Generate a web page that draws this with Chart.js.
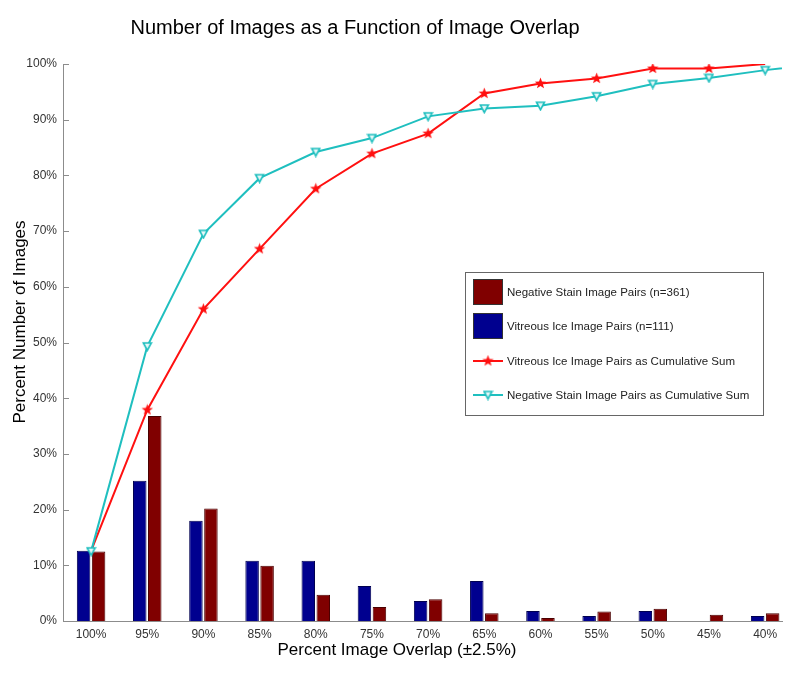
<!DOCTYPE html>
<html>
<head>
<meta charset="utf-8">
<script src="https://cdn.jsdelivr.net/npm/chart.js@4/dist/chart.umd.min.js"></script>
<style>
  html, body { margin: 0; padding: 0; background: #fff; }
  #wrap { position: relative; width: 800px; height: 678px; }
</style>
</head>
<body>
<div id="wrap"><canvas id="overlap"></canvas></div>
<script>
"use strict";

// Image overlap histogram + cumulative sums

let overlapLabels = ["100%", "95%", "90%", "85%", "80%", "75%", "70%", "65%", "60%", "55%", "50%", "45%", "40%"];

let vitreousPct = [12.6, 25.2, 18.0, 10.8, 10.8, 6.3, 3.6, 7.2, 1.8, 0.9, 1.8, 0, 0.9];
let negStainPct = [12.5, 36.8, 20.2, 9.9, 4.7, 2.5, 3.9, 1.4, 0.55, 1.7, 2.2, 1.1, 1.4];

let vitreousCum = [12.6, 37.9, 56.0, 66.8, 77.6, 83.9, 87.5, 94.7, 96.5, 97.4, 99.2, 99.2, 100];
// last value sits past the axis end (35%) and gets clipped
let negStainCum = [12.5, 49.3, 69.5, 79.5, 84.2, 86.7, 90.6, 92.0, 92.5, 94.2, 96.4, 97.5, 98.9, 100];

let yTicks = [0, 10, 20, 30, 40, 50, 60, 70, 80, 90, 100];

const FONT = "'Liberation Sans', Arial, Helvetica, sans-serif";
const RED = "#ff1010";
const CYAN = "#1fbfbf";
const NAVY = "#00008f";
const MAROON = "#800000";

function toXY(arr) {
    return arr.map(function(v, i) { return { x: i + 1, y: v }; });
}

// five point star marker
function starImage(size, color) {
    let c = document.createElement("canvas");
    c.width = size; c.height = size;
    let g = c.getContext("2d");
    let cx = size / 2, cy = size / 2, ro = size / 2 - 0.5, ri = ro * 0.42;
    g.beginPath();
    for (let k = 0; k < 10; k++) {
        let r = k % 2 === 0 ? ro : ri;
        let a = -Math.PI / 2 + k * Math.PI / 5;
        let px = cx + r * Math.cos(a), py = cy + r * Math.sin(a);
        if (k === 0) g.moveTo(px, py); else g.lineTo(px, py);
    }
    g.closePath();
    g.fillStyle = color;
    g.fill();
    return c;
}

// downward triangle marker
function triImage(size, color) {
    let c = document.createElement("canvas");
    c.width = size; c.height = size;
    let g = c.getContext("2d");
    g.beginPath();
    g.moveTo(1.5, 2);
    g.lineTo(size - 1.5, 2);
    g.lineTo(size / 2, size - 1.5);
    g.closePath();
    g.fillStyle = "#e8f8f8";
    g.fill();
    g.lineWidth = 1.6;
    g.strokeStyle = color;
    g.stroke();
    return c;
}

let star = starImage(13, RED);
let tri = triImage(11, CYAN);

let starRadius = vitreousCum.map(function(v, i) {
    return (i === 0 || i === vitreousCum.length - 1) ? 0 : 6;
});

let legendItems = [
    { text: "Negative Stain Image Pairs (n=361)", kind: "box", color: MAROON },
    { text: "Vitreous Ice Image Pairs (n=111)", kind: "box", color: NAVY },
    { text: "Vitreous Ice Image Pairs as Cumulative Sum", kind: "line", color: RED, marker: star },
    { text: "Negative Stain Image Pairs as Cumulative Sum", kind: "line", color: CYAN, marker: tri }
];

let extras = {
    id: "extras",
    afterDatasetsDraw: function(chart) {
        let ctx = chart.ctx;
        let area = chart.chartArea;
        let ys = chart.scales.y;
        ctx.save();

        // inward y ticks
        ctx.strokeStyle = "#8c8c8c";
        ctx.lineWidth = 1;
        yTicks.forEach(function(t) {
            let py = Math.round(ys.getPixelForValue(t)) + 0.5;
            ctx.beginPath();
            ctx.moveTo(area.left, py);
            ctx.lineTo(area.left + 6, py);
            ctx.stroke();
        });

        // title and axis titles
        ctx.fillStyle = "#000";
        ctx.textAlign = "center";
        ctx.textBaseline = "middle";
        ctx.font = "20px " + FONT;
        ctx.fillText("Number of Images as a Function of Image Overlap", 355, 28);
        ctx.font = "17px " + FONT;
        ctx.fillText("Percent Image Overlap (\u00b12.5%)", 397, 650);
        ctx.save();
        ctx.translate(20, 322);
        ctx.rotate(-Math.PI / 2);
        ctx.font = "17px " + FONT;
        ctx.fillText("Percent Number of Images", 0, 0);
        ctx.restore();

        // legend box
        let lx = 465, ly = 272, lw = 298, lh = 143;
        ctx.fillStyle = "#fff";
        ctx.fillRect(lx, ly, lw, lh);
        ctx.strokeStyle = "#666";
        ctx.lineWidth = 1;
        ctx.strokeRect(lx + 0.5, ly + 0.5, lw, lh);
        ctx.textAlign = "left";
        ctx.font = "11.5px " + FONT;
        let rows = [292, 326, 361, 395];
        legendItems.forEach(function(item, i) {
            let cy = rows[i];
            if (item.kind === "box") {
                ctx.fillStyle = item.color;
                ctx.fillRect(473, cy - 13, 30, 26);
                ctx.strokeStyle = "#333";
                ctx.strokeRect(473.5, cy - 12.5, 29, 25);
            } else {
                ctx.strokeStyle = item.color;
                ctx.lineWidth = 2;
                ctx.beginPath();
                ctx.moveTo(473, cy);
                ctx.lineTo(503, cy);
                ctx.stroke();
                ctx.lineWidth = 1;
                ctx.drawImage(item.marker, 488 - item.marker.width / 2, cy - item.marker.height / 2);
            }
            ctx.fillStyle = "#222";
            ctx.fillText(item.text, 507, cy + 1);
        });
        ctx.restore();
    }
};

let ctx_overlap = document.getElementById("overlap").getContext("2d");

let overlapChart = new Chart(ctx_overlap, {
    data: {
        datasets: [
            {
                type: "line",
                label: "Vitreous Ice Image Pairs as Cumulative Sum",
                data: toXY(vitreousCum),
                borderColor: RED,
                borderWidth: 2,
                pointStyle: star,
                pointRadius: starRadius,
                tension: 0,
                order: 1
            },
            {
                type: "line",
                label: "Negative Stain Image Pairs as Cumulative Sum",
                data: toXY(negStainCum),
                borderColor: CYAN,
                borderWidth: 2,
                pointStyle: tri,
                pointRadius: 5,
                tension: 0,
                order: 0
            },
            {
                type: "bar",
                label: "Vitreous Ice Image Pairs (n=111)",
                data: toXY(vitreousPct),
                backgroundColor: NAVY,
                borderColor: "#000050",
                borderWidth: 1,
                categoryPercentage: 0.534,
                barPercentage: 0.9,
                order: 2
            },
            {
                type: "bar",
                label: "Negative Stain Image Pairs (n=361)",
                data: toXY(negStainPct),
                backgroundColor: MAROON,
                borderColor: "#4a0000",
                borderWidth: 1,
                categoryPercentage: 0.534,
                barPercentage: 0.9,
                order: 2
            }
        ]
    },
    options: {
        responsive: true,
        maintainAspectRatio: false,
        animation: false,
        layout: {
            padding: { left: 13, right: 18, top: 64, bottom: 27 }
        },
        plugins: {
            legend: { display: false },
            title: { display: false },
            tooltip: { enabled: false }
        },
        scales: {
            x: {
                type: "linear",
                min: 0.5,
                max: 13.3,
                offset: false,
                afterFit: function(scale) { scale.height = 30; },
                afterBuildTicks: function(scale) {
                    scale.ticks = overlapLabels.map(function(l, i) { return { value: i + 1 }; });
                },
                ticks: {
                    autoSkip: false,
                    maxRotation: 0,
                    padding: 6,
                    color: "#333",
                    font: { family: FONT, size: 12 },
                    callback: function(v) { return overlapLabels[v - 1]; }
                },
                grid: { display: false, drawTicks: false },
                border: { display: true, color: "#8c8c8c", width: 1 }
            },
            y: {
                min: 0,
                max: 100,
                afterFit: function(scale) { scale.width = 50; },
                afterBuildTicks: function(scale) {
                    scale.ticks = yTicks.map(function(t) { return { value: t }; });
                },
                ticks: {
                    padding: 6,
                    color: "#333",
                    font: { family: FONT, size: 12 },
                    callback: function(v) { return v + "%"; }
                },
                grid: { display: false, drawTicks: false },
                border: { display: true, color: "#8c8c8c", width: 1 }
            }
        }
    },
    plugins: [extras]
});
</script>
</body>
</html>
